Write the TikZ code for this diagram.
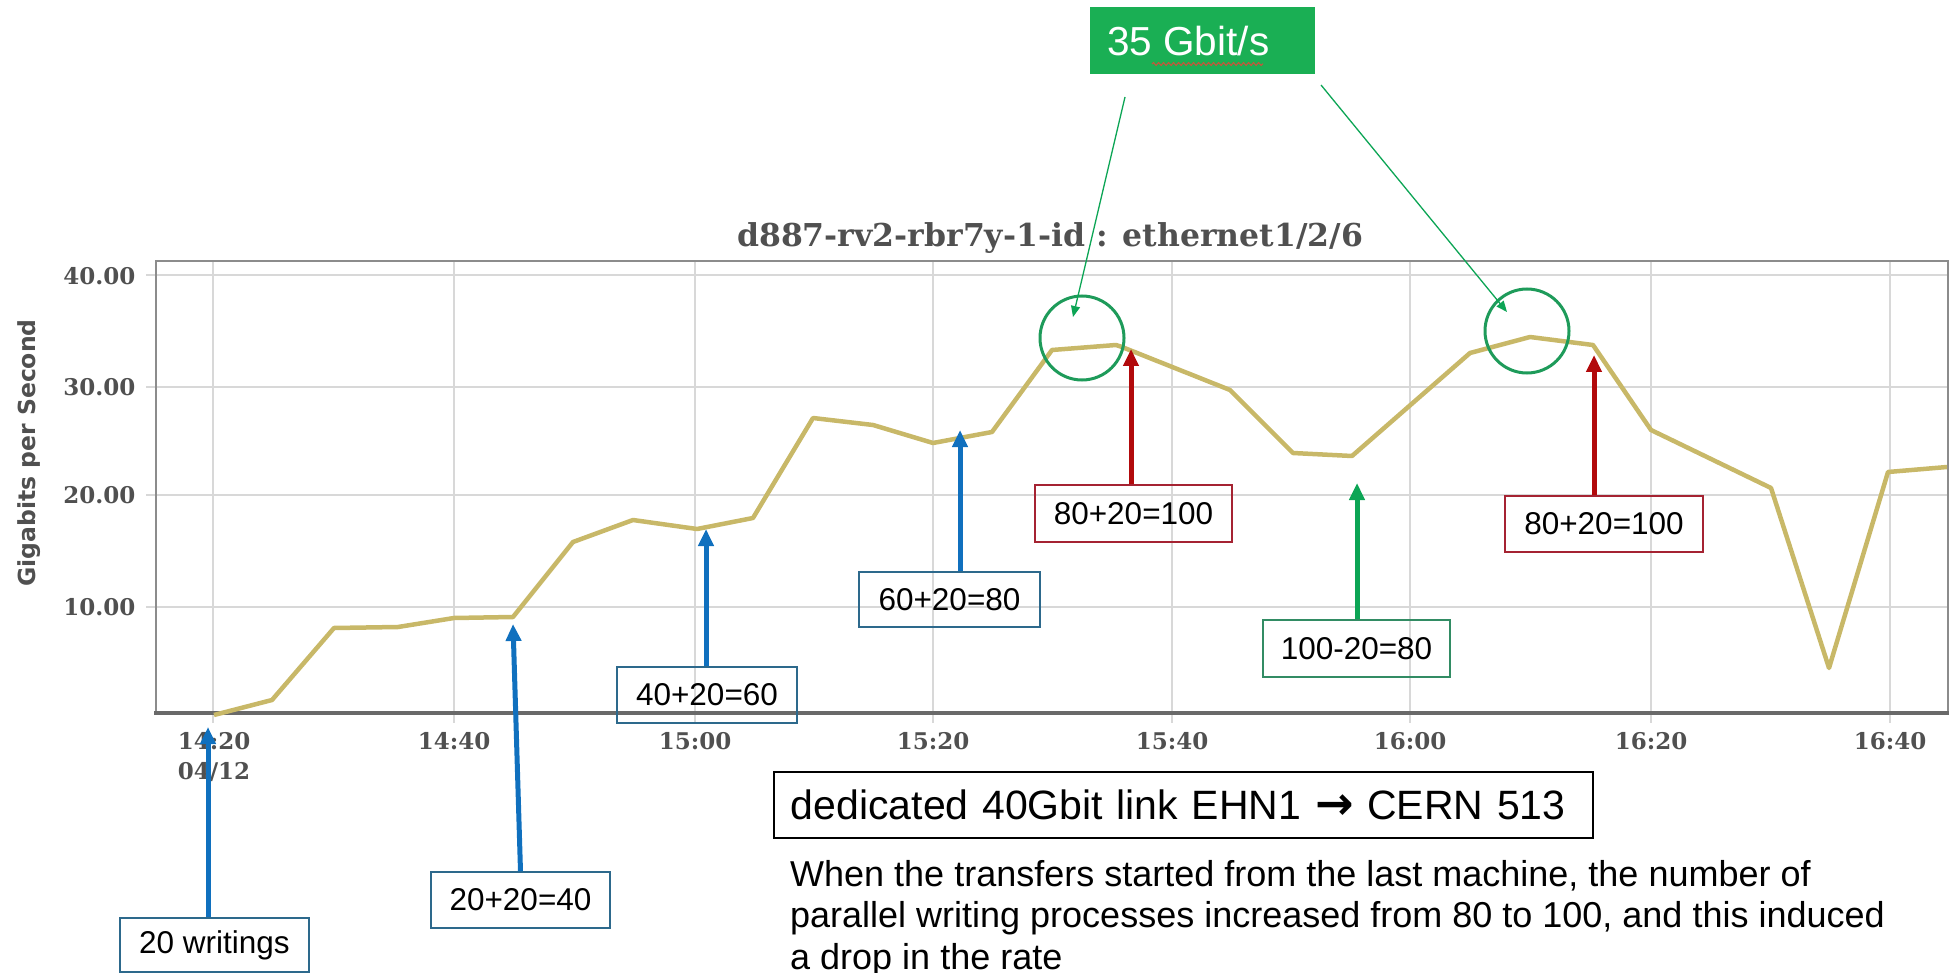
\documentclass[tikz,border=0pt]{standalone}
\usepackage{fontspec}
\setmainfont{Liberation Sans}
\newfontfamily\chartserif{DejaVu Serif}
\newfontfamily\chartsans{DejaVu Sans}
\usetikzlibrary{arrows.meta,decorations.pathmorphing}

\definecolor{gridgray}{RGB}{216,216,216}
\definecolor{framegray}{RGB}{140,140,140}
\definecolor{axisgray}{RGB}{105,105,105}
\definecolor{labelgray}{RGB}{80,80,80}
\definecolor{ratecurve}{RGB}{200,184,104}
\definecolor{arrowblue}{RGB}{16,112,190}
\definecolor{boxblue}{RGB}{45,105,140}
\definecolor{arrowred}{RGB}{178,10,12}
\definecolor{boxred}{RGB}{165,35,50}
\definecolor{arrowgreen}{RGB}{12,165,85}
\definecolor{boxgreen}{RGB}{50,140,100}
\definecolor{ringgreen}{RGB}{30,155,90}
\definecolor{fillgreen}{RGB}{26,175,84}
\definecolor{squiggle}{RGB}{190,90,60}

\begin{document}
\begin{tikzpicture}[x=1pt,y=-1pt,
  gridline/.style={gridgray, line width=2.2pt},
  frameline/.style={framegray, line width=2.2pt},
  ticklabel/.style={labelgray, font=\chartserif\bfseries\fontsize{23}{23}\selectfont},
  note/.style={draw, line width=1.4pt, inner sep=0pt, font=\fontsize{31.5}{31.5}\selectfont},
  bluenote/.style={note, draw=boxblue},
  rednote/.style={note, draw=boxred},
  greennote/.style={note, draw=boxgreen},
  fatarrow/.style={line width=5pt, -{Triangle[length=17pt,width=15pt]}},
  bluearrow/.style={fatarrow, arrowblue},
  redarrow/.style={fatarrow, arrowred},
  greenarrow/.style={fatarrow, arrowgreen},
  pointer/.style={arrowgreen, line width=1.3pt, -{Triangle[length=11pt,width=9pt]}},
  ring/.style={ringgreen, line width=3pt}]

\useasboundingbox (0,0) rectangle (1951,973);

% ---- chart grid, ticks and frame ----
\foreach \y in {275,387,495,607}{
  \draw[gridline] (146,\y) -- (1948,\y);
}
\foreach \x in {213,454,695,933,1172,1410,1651,1890}{
  \draw[gridline] (\x,262) -- (\x,723);
}
\draw[frameline] (156,713) -- (156,261) -- (1948,261) -- (1948,713);
\draw[axisgray, line width=4pt] (154,713) -- (1949,713);

% ---- value axis ----
\node[ticklabel, anchor=east] (y40) at (139,276) {40.00};
\node[ticklabel, anchor=east] (y30) at (139,387) {30.00};
\node[ticklabel, anchor=east] (y20) at (139,495) {20.00};
\node[ticklabel, anchor=east] (y10) at (139,607) {10.00};
\node[labelgray, rotate=90, font=\chartsans\bfseries\fontsize{23.5}{23.5}\selectfont] (ytitle) at (29,453) {Gigabits per Second};

% ---- time axis ----
\node[ticklabel] (x1420) at (214,741) {14:20};
\node[ticklabel] (xdate) at (214,772) {04/12};
\node[ticklabel] (x1440) at (454,741) {14:40};
\node[ticklabel] (x1500) at (695,741) {15:00};
\node[ticklabel] (x1520) at (933,741) {15:20};
\node[ticklabel] (x1540) at (1172,741) {15:40};
\node[ticklabel] (x1600) at (1410,741) {16:00};
\node[ticklabel] (x1620) at (1651,741) {16:20};
\node[ticklabel] (x1640) at (1890,741) {16:40};

% ---- chart title ----
\node[labelgray, font=\chartserif\bfseries\fontsize{31.5}{31.5}\selectfont] (title) at (1050,238) {d887-rv2-rbr7y-1-id : ethernet1/2/6};

% ---- transfer rate ----
\draw[ratecurve, line width=4.5pt, line join=round] plot coordinates {
  (214,715) (272,700) (334,628) (398,627) (454,618) (513,617)
  (573,542) (633,520) (697,529) (753,518) (813,418) (873,425)
  (933,443) (992,432) (1052,350) (1116,345) (1122,347) (1230,390)
  (1293,453) (1352,456) (1470,353) (1530,337) (1593,345) (1651,430)
  (1771,488) (1829,668) (1888,472) (1947,467)};

% ---- peak markers ----
\draw[ring] (1082,338) circle[radius=42];
\draw[ring] (1527,331) circle[radius=42];

\node[fill=fillgreen, minimum width=225pt, minimum height=67pt, inner sep=0pt] (peak) at (1202.5,40.5) {};
\node[white, anchor=base west, inner sep=0pt, font=\fontsize{40.5}{40.5}\selectfont] (peaktext) at (1107,56) {35 Gbit/s};
\draw[squiggle, line width=1.2pt, decorate, decoration={snake, amplitude=1.4pt, segment length=5pt}] (1152,64) -- (1263,64);

\coordinate (s1) at (1125,97);
\coordinate (p1) at (1073,317);
\coordinate (s2) at (1321,85);
\coordinate (p2) at (1507,312);
\draw[pointer] (s1) -- (p1);
\draw[pointer] (s2) -- (p2);

% ---- writer counts ----
\node[bluenote, minimum width=189pt, minimum height=54pt] (b20) at (214.5,945) {20 writings};
\node[bluenote, minimum width=179pt, minimum height=56pt] (b40) at (520.5,900) {20+20=40};
\node[bluenote, minimum width=180pt, minimum height=56pt] (b60) at (707,695) {40+20=60};
\node[bluenote, minimum width=181pt, minimum height=55pt] (b80) at (949.5,599.5) {60+20=80};
\node[rednote, minimum width=197pt, minimum height=57pt] (r1) at (1133.5,513.5) {80+20=100};
\node[rednote, minimum width=198pt, minimum height=56pt] (r2) at (1604,524) {80+20=100};
\node[greennote, minimum width=187pt, minimum height=57pt] (g1) at (1356.5,648.5) {100-20=80};

\coordinate (t20) at (208,727);
\coordinate (t40) at (513,624);
\coordinate (t60) at (706,529);
\coordinate (t80) at (960,430);
\coordinate (tr1) at (1131,349);
\coordinate (tr2) at (1594,355);
\coordinate (tg1) at (1357,483);

\draw[bluearrow] (b20.north -| t20) -- (t20);
\draw[bluearrow] (b40.north) -- (t40);
\draw[bluearrow] (b60.north -| t60) -- (t60);
\draw[bluearrow] (b80.north -| t80) -- (t80);
\draw[redarrow] (r1.north -| tr1) -- (tr1);
\draw[redarrow] (r2.north -| tr2) -- (tr2);
\draw[greenarrow] (g1.north -| tg1) -- (tg1);

% ---- explanation ----
\node[draw=black, line width=1.8pt, anchor=west, inner xsep=17pt, inner ysep=0pt,
      text width=785pt, minimum height=66pt, align=left,
      font=\fontsize{41}{41}\selectfont] (link) at (773,805)
  {dedicated 40Gbit link EHN1 {\chartsans\bfseries\fontsize{46}{46}\selectfont →} CERN 513};
\node[anchor=north west, inner sep=0pt, align=left,
      font=\fontsize{36}{41.7}\selectfont] (remark) at (790,860)
  {When the transfers started from the last machine, the number of\\
   parallel writing processes increased from 80 to 100, and this induced\\
   a drop in the rate};
\end{tikzpicture}
\end{document}
